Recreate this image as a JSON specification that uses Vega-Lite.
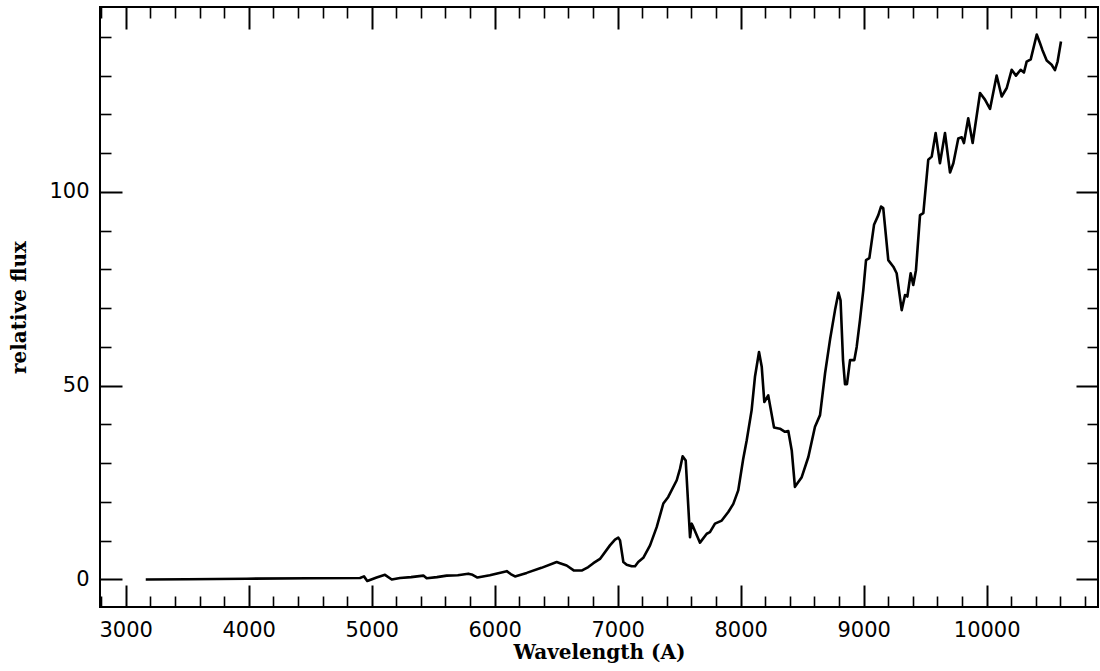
{
  "$schema": "https://vega.github.io/schema/vega-lite/v6.json",
  "width": 998,
  "height": 600,
  "autosize": {"type": "none"},
  "padding": {"left": 100, "top": 7, "right": 2, "bottom": 64},
  "background": "white",
  "config": {
    "view": {"stroke": "black", "strokeWidth": 2},
    "axis": {"grid": false, "domain": false, "tickColor": "black", "labelColor": "black", "titleColor": "black"}
  },
  "data": {
    "values": [
      {"wavelength": 3163, "flux": 0},
      {"wavelength": 3500, "flux": 0.05},
      {"wavelength": 3984, "flux": 0.2},
      {"wavelength": 4500, "flux": 0.3},
      {"wavelength": 4905, "flux": 0.4},
      {"wavelength": 4937, "flux": 0.8},
      {"wavelength": 4964, "flux": -0.4},
      {"wavelength": 5040, "flux": 0.5},
      {"wavelength": 5108, "flux": 1.2},
      {"wavelength": 5163, "flux": 0.0},
      {"wavelength": 5230, "flux": 0.4},
      {"wavelength": 5320, "flux": 0.6},
      {"wavelength": 5420, "flux": 1.0},
      {"wavelength": 5447, "flux": 0.3},
      {"wavelength": 5530, "flux": 0.6},
      {"wavelength": 5610, "flux": 1.0},
      {"wavelength": 5700, "flux": 1.1},
      {"wavelength": 5785, "flux": 1.5},
      {"wavelength": 5820, "flux": 1.2},
      {"wavelength": 5860, "flux": 0.5},
      {"wavelength": 5960, "flux": 1.1},
      {"wavelength": 6098, "flux": 2.15},
      {"wavelength": 6130, "flux": 1.4},
      {"wavelength": 6165, "flux": 0.8},
      {"wavelength": 6260, "flux": 1.7},
      {"wavelength": 6380, "flux": 3.0},
      {"wavelength": 6504, "flux": 4.5},
      {"wavelength": 6531, "flux": 4.2},
      {"wavelength": 6585, "flux": 3.6},
      {"wavelength": 6645, "flux": 2.3},
      {"wavelength": 6707, "flux": 2.3},
      {"wavelength": 6761, "flux": 3.2},
      {"wavelength": 6802, "flux": 4.2},
      {"wavelength": 6856, "flux": 5.3},
      {"wavelength": 6937, "flux": 8.8},
      {"wavelength": 6978, "flux": 10.3},
      {"wavelength": 7005, "flux": 10.8},
      {"wavelength": 7019, "flux": 10.1},
      {"wavelength": 7046, "flux": 4.5},
      {"wavelength": 7073, "flux": 3.8},
      {"wavelength": 7114, "flux": 3.4},
      {"wavelength": 7141, "flux": 3.4},
      {"wavelength": 7167, "flux": 4.5},
      {"wavelength": 7208, "flux": 5.6},
      {"wavelength": 7263, "flux": 8.8},
      {"wavelength": 7317, "flux": 13.5},
      {"wavelength": 7371, "flux": 19.6},
      {"wavelength": 7411, "flux": 21.3},
      {"wavelength": 7480, "flux": 25.6},
      {"wavelength": 7507, "flux": 28.6},
      {"wavelength": 7528, "flux": 31.8},
      {"wavelength": 7553, "flux": 30.7},
      {"wavelength": 7588, "flux": 10.9},
      {"wavelength": 7602, "flux": 14.4},
      {"wavelength": 7615, "flux": 13.5},
      {"wavelength": 7669, "flux": 9.5},
      {"wavelength": 7724, "flux": 11.8},
      {"wavelength": 7750, "flux": 12.2},
      {"wavelength": 7791, "flux": 14.4},
      {"wavelength": 7846, "flux": 15.2},
      {"wavelength": 7899, "flux": 17.4},
      {"wavelength": 7940, "flux": 19.5},
      {"wavelength": 7980, "flux": 23},
      {"wavelength": 8020, "flux": 31},
      {"wavelength": 8049, "flux": 35.9},
      {"wavelength": 8089, "flux": 43.7},
      {"wavelength": 8116, "flux": 52.3},
      {"wavelength": 8149, "flux": 58.7},
      {"wavelength": 8171, "flux": 54.9},
      {"wavelength": 8192, "flux": 45.8},
      {"wavelength": 8224, "flux": 47.5},
      {"wavelength": 8271, "flux": 39.2},
      {"wavelength": 8319, "flux": 38.9},
      {"wavelength": 8360, "flux": 38.1},
      {"wavelength": 8387, "flux": 38.3},
      {"wavelength": 8415, "flux": 33.3},
      {"wavelength": 8441, "flux": 23.9},
      {"wavelength": 8496, "flux": 26.4},
      {"wavelength": 8550, "flux": 31.6},
      {"wavelength": 8604, "flux": 39.4},
      {"wavelength": 8645, "flux": 42.4},
      {"wavelength": 8686, "flux": 53.2},
      {"wavelength": 8727, "flux": 62},
      {"wavelength": 8767, "flux": 69.5},
      {"wavelength": 8795, "flux": 74},
      {"wavelength": 8812, "flux": 72},
      {"wavelength": 8832, "flux": 56.6},
      {"wavelength": 8848, "flux": 50.4},
      {"wavelength": 8864, "flux": 50.4},
      {"wavelength": 8889, "flux": 56.6},
      {"wavelength": 8924, "flux": 56.6},
      {"wavelength": 8943, "flux": 60},
      {"wavelength": 8970, "flux": 67},
      {"wavelength": 8997, "flux": 74.7},
      {"wavelength": 9019, "flux": 82.4},
      {"wavelength": 9046, "flux": 82.9},
      {"wavelength": 9084, "flux": 91.5},
      {"wavelength": 9119, "flux": 94},
      {"wavelength": 9141, "flux": 96.2},
      {"wavelength": 9159, "flux": 95.8},
      {"wavelength": 9200, "flux": 82.4},
      {"wavelength": 9241, "flux": 80.7},
      {"wavelength": 9268, "flux": 79},
      {"wavelength": 9309, "flux": 69.5},
      {"wavelength": 9336, "flux": 73.4},
      {"wavelength": 9355, "flux": 73},
      {"wavelength": 9382, "flux": 79},
      {"wavelength": 9403, "flux": 76},
      {"wavelength": 9425, "flux": 79.8},
      {"wavelength": 9458, "flux": 94},
      {"wavelength": 9485, "flux": 94.5},
      {"wavelength": 9525, "flux": 108.3},
      {"wavelength": 9553, "flux": 109.1},
      {"wavelength": 9585, "flux": 115.2},
      {"wavelength": 9620, "flux": 107.4},
      {"wavelength": 9661, "flux": 115.2},
      {"wavelength": 9702, "flux": 105},
      {"wavelength": 9729, "flux": 107.4},
      {"wavelength": 9769, "flux": 113.8},
      {"wavelength": 9797, "flux": 114.1},
      {"wavelength": 9815, "flux": 112.6},
      {"wavelength": 9850, "flux": 119},
      {"wavelength": 9886, "flux": 112.6},
      {"wavelength": 9946, "flux": 125.5},
      {"wavelength": 9986, "flux": 123.8},
      {"wavelength": 10027, "flux": 121.4},
      {"wavelength": 10081, "flux": 130},
      {"wavelength": 10122, "flux": 124.6},
      {"wavelength": 10163, "flux": 126.8},
      {"wavelength": 10203, "flux": 131.5},
      {"wavelength": 10238, "flux": 130},
      {"wavelength": 10276, "flux": 131.5},
      {"wavelength": 10303, "flux": 130.8},
      {"wavelength": 10325, "flux": 133.6},
      {"wavelength": 10358, "flux": 134.2},
      {"wavelength": 10407, "flux": 140.6},
      {"wavelength": 10433, "flux": 138.4},
      {"wavelength": 10452, "flux": 136.7},
      {"wavelength": 10488, "flux": 133.9},
      {"wavelength": 10528, "flux": 132.8},
      {"wavelength": 10555, "flux": 131.4},
      {"wavelength": 10577, "flux": 133.7},
      {"wavelength": 10604, "flux": 138.8}
    ]
  },
  "resolve": {"axis": {"x": "independent", "y": "independent"}},
  "layer": [
    {
      "mark": {"type": "line", "color": "black", "strokeWidth": 2.6, "strokeJoin": "round"},
      "encoding": {
        "x": {
          "field": "wavelength", "type": "quantitative",
          "scale": {"domain": [2791, 10905], "nice": false, "zero": false},
          "axis": {
            "orient": "bottom", "values": [3000, 4000, 5000, 6000, 7000, 8000, 9000, 10000],
            "ticks": false, "tickSize": 0, "labelPadding": 12, "labelFlush": false, "labelOverlap": false,
            "labelFont": "DejaVu Sans", "labelFontSize": 21, "format": "d",
            "title": "Wavelength (A)", "titleFont": "DejaVu Serif", "titleFontSize": 20, "titleFontWeight": "bold",
            "titleY": 51, "titleBaseline": "alphabetic"
          }
        },
        "y": {
          "field": "flux", "type": "quantitative",
          "scale": {"domain": [-7.1, 147.7], "nice": false, "zero": false},
          "axis": {
            "orient": "left", "values": [0, 50, 100],
            "ticks": false, "tickSize": 0, "labelPadding": 11, "labelFlush": false, "labelOverlap": false,
            "labelFont": "DejaVu Sans", "labelFontSize": 21,
            "title": "relative flux", "titleFont": "DejaVu Serif", "titleFontSize": 20, "titleFontWeight": "bold",
            "titleX": -75, "titleBaseline": "alphabetic", "titleAngle": -90
          }
        }
      }
    },
    {
      "mark": {"type": "line", "opacity": 0},
      "encoding": {
        "x": {"field": "wavelength", "type": "quantitative", "scale": {"domain": [2791, 10905], "nice": false, "zero": false},
          "axis": {"orient": "bottom", "values": [3000, 4000, 5000, 6000, 7000, 8000, 9000, 10000], "labels": false, "tickSize": -22, "tickWidth": 2, "title": null}},
        "y": {"field": "flux", "type": "quantitative", "scale": {"domain": [-7.1, 147.7], "nice": false, "zero": false},
          "axis": {"orient": "left", "values": [0, 50, 100], "labels": false, "tickSize": -22, "tickWidth": 2, "title": null}}
      }
    },
    {
      "mark": {"type": "line", "opacity": 0},
      "encoding": {
        "x": {"field": "wavelength", "type": "quantitative", "scale": {"domain": [2791, 10905], "nice": false, "zero": false},
          "axis": {"orient": "bottom", "values": [2800, 3200, 3400, 3600, 3800, 4200, 4400, 4600, 4800, 5200, 5400, 5600, 5800, 6200, 6400, 6600, 6800, 7200, 7400, 7600, 7800, 8200, 8400, 8600, 8800, 9200, 9400, 9600, 9800, 10200, 10400, 10600, 10800], "labels": false, "tickSize": -11, "tickWidth": 1.6, "title": null}},
        "y": {"field": "flux", "type": "quantitative", "scale": {"domain": [-7.1, 147.7], "nice": false, "zero": false},
          "axis": {"orient": "left", "values": [10, 20, 30, 40, 60, 70, 80, 90, 110, 120, 130, 140], "labels": false, "tickSize": -11, "tickWidth": 1.6, "title": null}}
      }
    },
    {
      "mark": {"type": "line", "opacity": 0},
      "encoding": {
        "x": {"field": "wavelength", "type": "quantitative", "scale": {"domain": [2791, 10905], "nice": false, "zero": false},
          "axis": {"orient": "top", "values": [3000, 4000, 5000, 6000, 7000, 8000, 9000, 10000], "labels": false, "tickSize": -22, "tickWidth": 2, "title": null}},
        "y": {"field": "flux", "type": "quantitative", "scale": {"domain": [-7.1, 147.7], "nice": false, "zero": false},
          "axis": {"orient": "right", "values": [0, 50, 100], "labels": false, "tickSize": -22, "tickWidth": 2, "title": null}}
      }
    },
    {
      "mark": {"type": "line", "opacity": 0},
      "encoding": {
        "x": {"field": "wavelength", "type": "quantitative", "scale": {"domain": [2791, 10905], "nice": false, "zero": false},
          "axis": {"orient": "top", "values": [2800, 3200, 3400, 3600, 3800, 4200, 4400, 4600, 4800, 5200, 5400, 5600, 5800, 6200, 6400, 6600, 6800, 7200, 7400, 7600, 7800, 8200, 8400, 8600, 8800, 9200, 9400, 9600, 9800, 10200, 10400, 10600, 10800], "labels": false, "tickSize": -11, "tickWidth": 1.6, "title": null}},
        "y": {"field": "flux", "type": "quantitative", "scale": {"domain": [-7.1, 147.7], "nice": false, "zero": false},
          "axis": {"orient": "right", "values": [10, 20, 30, 40, 60, 70, 80, 90, 110, 120, 130, 140], "labels": false, "tickSize": -11, "tickWidth": 1.6, "title": null}}
      }
    }
  ]
}
